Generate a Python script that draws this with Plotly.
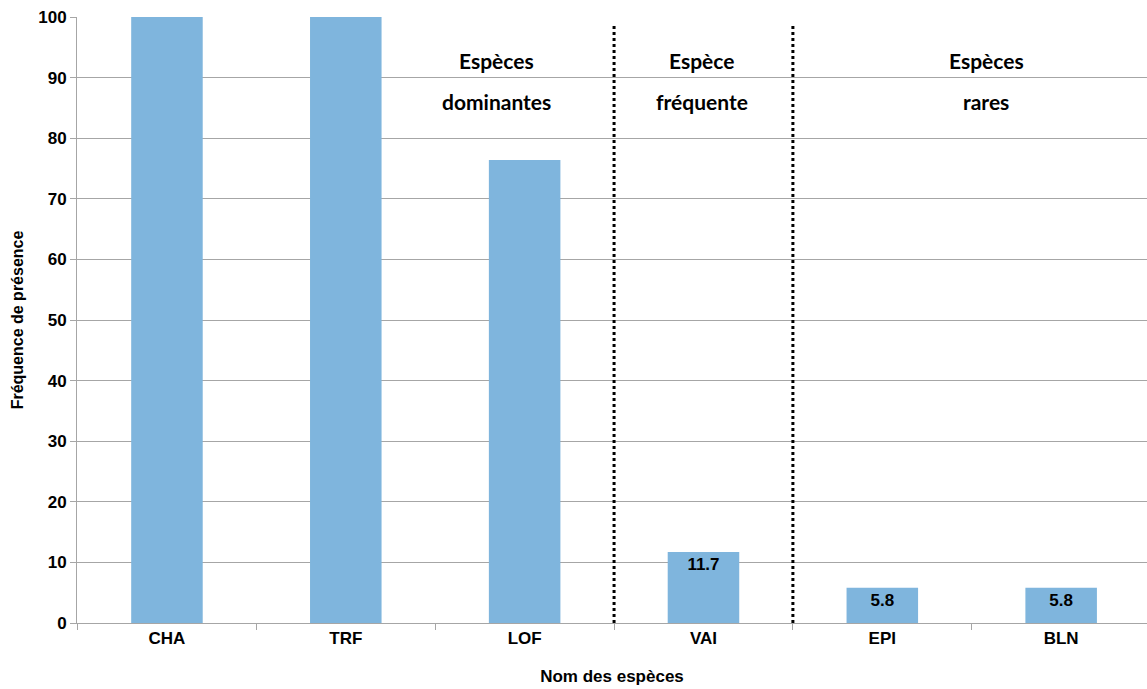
import plotly.graph_objects as go

# Species codes and their presence frequency (%)
species = ["CHA", "TRF", "LOF", "VAI", "EPI", "BLN"]
frequency = [100, 100, 76.4, 11.7, 5.8, 5.8]
# Only the non-dominant species carry a value label
show_label = [False, False, False, True, True, True]

# Status groups: label lines, index of last species in the group
group_titles = [["Espèces", "dominantes"], ["Espèce", "fréquente"], ["Espèces", "rares"]]
group_last = [2, 3, 5]
# Horizontal placement of each group title (category units)
group_title_x = [1.84, 2.99, 4.58]

bar_color = "#7FB5DD"
grid_color = "#A6A6A6"
sans = "Liberation Sans, Arial, sans-serif"
tick_font = dict(family=sans, size=17, color="#000000")

labels = [f"<b>{v:.1f}</b>" if s else "" for v, s in zip(frequency, show_label)]

fig = go.Figure(
    go.Bar(
        x=species,
        y=frequency,
        width=0.4,
        marker=dict(color=bar_color, line=dict(width=0)),
        text=labels,
        textposition="inside",
        insidetextanchor="end",
        textangle=0,
        textfont=dict(family=sans, size=17, color="#000000"),
        hoverinfo="x+y",
    )
)

# Dotted separators between status groups
for last in group_last[:-1]:
    fig.add_shape(
        type="line",
        xref="x", yref="y",
        x0=last + 0.5, x1=last + 0.5,
        y0=0, y1=99,
        line=dict(color="#000000", width=3, dash="dot"),
        layer="above",
    )

# Group titles, two lines each
for title, tx in zip(group_titles, group_title_x):
    for line_text, ty in zip(title, [92.9, 86.0]):
        fig.add_annotation(
            x=tx, y=ty, xref="x", yref="y",
            text=f"<b>{line_text}</b>",
            showarrow=False,
            font=dict(family="Lato, 'Open Sans', sans-serif", size=21, color="#000000"),
        )

fig.update_layout(
    width=1147,
    height=689,
    margin=dict(l=77, r=0, t=17, b=66),
    paper_bgcolor="#FFFFFF",
    plot_bgcolor="#FFFFFF",
    showlegend=False,
    bargap=0.6,
    xaxis=dict(
        type="category",
        range=[-0.503, 5.48],
        tickson="boundaries",
        ticks="outside",
        ticklen=6,
        tickcolor=grid_color,
        showline=True,
        linecolor=grid_color,
        linewidth=1,
        showgrid=False,
        tickfont=tick_font,
        tickprefix="<b>",
        ticksuffix="</b>",
        title=dict(
            text="<b>Nom des espèces</b>",
            font=dict(family=sans, size=17, color="#000000"),
            standoff=22,
        ),
    ),
    yaxis=dict(
        range=[0, 100],
        dtick=10,
        ticks="outside",
        ticklen=6,
        tickcolor=grid_color,
        showline=True,
        linecolor=grid_color,
        linewidth=1,
        showgrid=True,
        gridcolor=grid_color,
        gridwidth=1,
        zeroline=False,
        tickfont=tick_font,
        tickprefix="<b>",
        ticksuffix="</b>",
        title=dict(
            text="<b>Fréquence de présence</b>",
            font=dict(family=sans, size=16, color="#000000"),
            standoff=10,
        ),
    ),
)

fig.write_html("out.html")
